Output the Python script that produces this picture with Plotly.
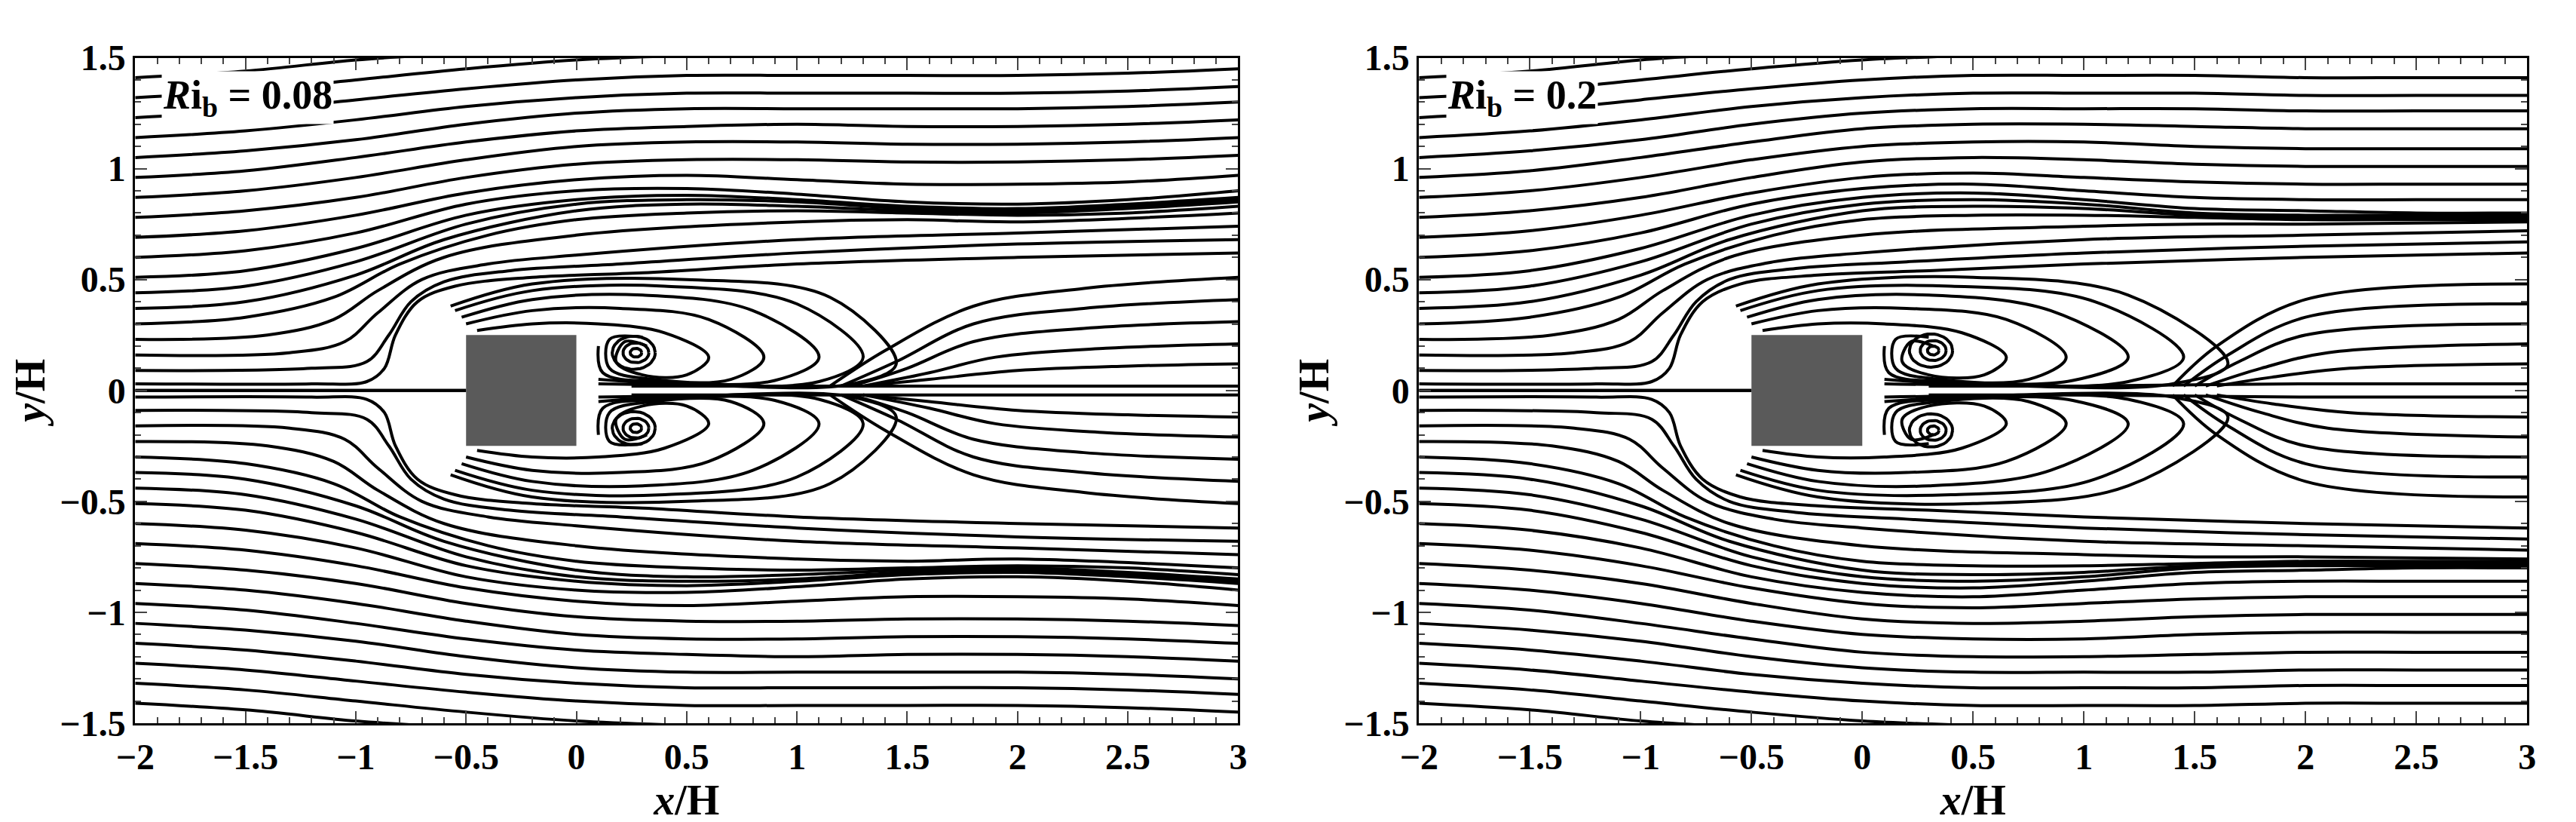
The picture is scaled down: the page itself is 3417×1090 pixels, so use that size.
import plotly.graph_objects as go
import math

# ---- data: upper-half streamlines (x, y) points; lower half mirrored ----
A_LINES = [
    [(-2,0.03),(-1.2,0.03),(-0.95,0.04),(-0.87,0.1),(-0.82,0.25),(-0.72,0.4),(-0.55,0.47),(-0.2,0.51),(0.3,0.53),(1,0.57),(2,0.6),(3,0.62)],
    [(-2,0.09),(-1.2,0.1),(-0.95,0.13),(-0.85,0.25),(-0.75,0.4),(-0.6,0.49),(-0.3,0.54),(0.2,0.57),(1,0.62),(2,0.66),(3,0.68)],
    [(-2,0.16),(-1.3,0.17),(-1.05,0.22),(-0.9,0.35),(-0.7,0.5),(-0.4,0.57),(0,0.61),(1,0.68),(2,0.71),(3,0.74)],
    [(-2,0.23),(-1.4,0.25),(-1.1,0.32),(-0.9,0.45),(-0.6,0.6),(0,0.7),(1,0.76),(1.5,0.77),(2,0.76),(3,0.8)],
    [(-2,0.3),(-1.5,0.33),(-1.1,0.42),(-0.8,0.57),(-0.4,0.7),(0,0.77),(0.5,0.8),(1,0.81),(1.5,0.8),(2,0.79),(2.5,0.8),(3,0.83)],
    [(-2,0.37),(-1.5,0.4),(-1,0.52),(-0.6,0.68),(0,0.81),(0.5,0.84),(1,0.83),(1.5,0.81),(2,0.8),(2.5,0.82),(3,0.85)],
    [(-2,0.44),(-1.5,0.47),(-1,0.58),(-0.5,0.75),(0,0.84),(0.5,0.86),(1,0.85),(1.5,0.82),(2,0.81),(2.5,0.83),(3,0.86)],
    [(-2,0.51),(-1.5,0.54),(-1,0.64),(-0.5,0.79),(0,0.86),(0.5,0.88),(1,0.86),(1.5,0.83),(2,0.82),(2.5,0.84),(3,0.87)],
    [(-2,0.6),(-1.5,0.63),(-1,0.71),(-0.5,0.84),(0,0.9),(0.5,0.91),(1,0.885),(1.5,0.85),(2,0.84),(2.5,0.86),(3,0.9)],
    [(-2,0.69),(-1.5,0.72),(-1,0.79),(-0.5,0.89),(0,0.95),(0.5,0.97),(1,0.95),(1.5,0.93),(2,0.93),(2.5,0.94),(3,0.97)],
    [(-2,0.78),(-1.5,0.81),(-1,0.87),(-0.5,0.96),(0,1.02),(0.5,1.04),(1,1.04),(1.5,1.03),(2,1.03),(2.5,1.04),(3,1.06)],
    [(-2,0.87),(-1.5,0.9),(-1,0.96),(-0.5,1.04),(0,1.1),(0.5,1.12),(1,1.12),(1.5,1.11),(2,1.11),(2.5,1.12),(3,1.14)],
    [(-2,0.96),(-1.5,0.99),(-1,1.05),(-0.5,1.12),(0,1.17),(0.5,1.19),(1,1.2),(1.5,1.19),(2,1.19),(2.5,1.2),(3,1.22)],
    [(-2,1.05),(-1.5,1.08),(-1,1.13),(-0.5,1.2),(0,1.25),(0.5,1.27),(1,1.27),(1.5,1.27),(2,1.27),(2.5,1.28),(3,1.3)],
    [(-2,1.14),(-1.5,1.17),(-1,1.22),(-0.5,1.28),(0,1.32),(0.5,1.34),(1,1.34),(1.5,1.34),(2,1.34),(2.5,1.35),(3,1.37)],
    [(-2,1.23),(-1.5,1.26),(-1,1.31),(-0.5,1.36),(0,1.4),(0.5,1.42),(1,1.42),(1.5,1.42),(2,1.42),(2.5,1.43),(3,1.45)],
    [(-2,1.32),(-1.5,1.35),(-1,1.4),(-0.5,1.45),(0,1.49),(0.5,1.51)],
    [(-2,1.41),(-1.5,1.44),(-1,1.49),(-0.7,1.51)],
    [(-2,0.0),(-0.5,0.0)],
    [(0.25,0.02),(1,0.02),(2,0.02),(3,0.02)],
    [(1.3,0.02),(1.6,0.05),(2,0.09),(2.5,0.11),(3,0.12)],
    [(1.3,0.02),(1.6,0.08),(1.9,0.15),(2.4,0.19),(3,0.21)],
    [(1.25,0.02),(1.5,0.1),(1.8,0.22),(2.3,0.28),(3,0.31)],
    [(1.2,0.02),(1.45,0.13),(1.8,0.3),(2.3,0.37),(3,0.41)],
    [(1.15,0.02),(1.4,0.18),(1.8,0.38),(2.3,0.46),(3,0.51)],
]
A_LOOPS = [
    [(-0.45,0.27),(-0.2,0.3),(0.1,0.3),(0.4,0.26),(0.6,0.15),(0.5,0.07),(0.3,0.07),(0.18,0.13),(0.22,0.22),(0.32,0.2)],
    [(-0.5,0.3),(-0.2,0.36),(0.2,0.37),(0.6,0.32),(0.85,0.15),(0.7,0.05),(0.35,0.05),(0.15,0.1),(0.15,0.23),(0.3,0.24)],
    [(-0.52,0.33),(-0.2,0.41),(0.3,0.43),(0.8,0.36),(1.1,0.15),(0.9,0.045),(0.4,0.04),(0.12,0.08),(0.1,0.2)],
    [(-0.55,0.36),(-0.2,0.45),(0.4,0.47),(1.0,0.39),(1.3,0.15),(1.1,0.04),(0.45,0.03),(0.1,0.05)],
    [(-0.57,0.38),(-0.2,0.48),(0.5,0.5),(1.15,0.42),(1.45,0.12),(1.25,0.03),(0.5,0.025),(0.1,0.03)],
]
A_SPIRAL = [(0.27,0.17,0.02),(0.27,0.17,0.045),(0.26,0.17,0.075)]

B_LINES = [
    [(-2,0.03),(-1.2,0.03),(-0.95,0.04),(-0.87,0.1),(-0.82,0.25),(-0.72,0.4),(-0.55,0.48),(-0.2,0.52),(0.3,0.54),(1,0.57),(2,0.6),(3,0.62)],
    [(-2,0.09),(-1.2,0.1),(-0.95,0.13),(-0.85,0.25),(-0.75,0.4),(-0.6,0.5),(-0.3,0.55),(0.2,0.58),(1,0.62),(2,0.65),(3,0.67)],
    [(-2,0.16),(-1.3,0.17),(-1.05,0.22),(-0.9,0.35),(-0.7,0.5),(-0.4,0.58),(0,0.62),(1,0.68),(2,0.7),(3,0.72)],
    [(-2,0.23),(-1.4,0.25),(-1.1,0.32),(-0.9,0.45),(-0.6,0.6),(0,0.7),(1,0.74),(1.5,0.75),(2,0.75),(3,0.76)],
    [(-2,0.3),(-1.5,0.33),(-1.1,0.42),(-0.8,0.57),(-0.4,0.7),(0,0.77),(0.5,0.79),(1,0.79),(1.5,0.78),(2,0.77),(2.5,0.77),(3,0.77)],
    [(-2,0.37),(-1.5,0.4),(-1,0.52),(-0.6,0.68),(0,0.81),(0.5,0.83),(1,0.82),(1.5,0.79),(2,0.78),(2.5,0.78),(3,0.78)],
    [(-2,0.44),(-1.5,0.47),(-1,0.58),(-0.5,0.75),(0,0.84),(0.5,0.86),(1,0.84),(1.5,0.8),(2,0.79),(2.5,0.79),(3,0.79)],
    [(-2,0.51),(-1.5,0.54),(-1,0.64),(-0.5,0.79),(0,0.87),(0.5,0.89),(1,0.86),(1.5,0.82),(2,0.81),(2.5,0.8),(3,0.8)],
    [(-2,0.6),(-1.5,0.63),(-1,0.71),(-0.5,0.84),(0,0.91),(0.5,0.93),(1,0.9),(1.5,0.87),(2,0.86),(2.5,0.86),(3,0.86)],
    [(-2,0.69),(-1.5,0.72),(-1,0.79),(-0.5,0.89),(0,0.96),(0.5,0.98),(1,0.96),(1.5,0.94),(2,0.93),(2.5,0.93),(3,0.93)],
    [(-2,0.78),(-1.5,0.81),(-1,0.87),(-0.5,0.96),(0,1.03),(0.5,1.05),(1,1.04),(1.5,1.02),(2,1.01),(2.5,1.01),(3,1.01)],
    [(-2,0.87),(-1.5,0.9),(-1,0.96),(-0.5,1.04),(0,1.1),(0.5,1.12),(1,1.12),(1.5,1.1),(2,1.09),(2.5,1.09),(3,1.09)],
    [(-2,0.96),(-1.5,0.99),(-1,1.05),(-0.5,1.12),(0,1.18),(0.5,1.2),(1,1.2),(1.5,1.19),(2,1.18),(2.5,1.18),(3,1.18)],
    [(-2,1.05),(-1.5,1.08),(-1,1.13),(-0.5,1.2),(0,1.25),(0.5,1.27),(1,1.27),(1.5,1.27),(2,1.26),(2.5,1.26),(3,1.26)],
    [(-2,1.14),(-1.5,1.17),(-1,1.22),(-0.5,1.28),(0,1.32),(0.5,1.34),(1,1.34),(1.5,1.34),(2,1.33),(2.5,1.33),(3,1.33)],
    [(-2,1.23),(-1.5,1.26),(-1,1.31),(-0.5,1.36),(0,1.4),(0.5,1.42),(1,1.42),(1.5,1.42),(2,1.41),(2.5,1.41),(3,1.41)],
    [(-2,1.32),(-1.5,1.35),(-1,1.4),(-0.5,1.45),(0,1.49),(0.5,1.51)],
    [(-2,1.41),(-1.5,1.44),(-1,1.49),(-0.7,1.51)],
    [(-2,0.0),(-0.5,0.0)],
    [(0.3,0.02),(1,0.02),(2,0.03),(3,0.03)],
    [(1.6,0.02),(1.85,0.06),(2.2,0.1),(3,0.12)],
    [(1.55,0.02),(1.8,0.1),(2.1,0.17),(3,0.21)],
    [(1.5,0.02),(1.7,0.13),(2.0,0.25),(3,0.3)],
    [(1.45,0.02),(1.65,0.16),(2.0,0.33),(3,0.39)],
    [(1.4,0.02),(1.6,0.2),(2.0,0.41),(3,0.48)],
]
B_LOOPS = [
    [(-0.45,0.27),(-0.2,0.3),(0.1,0.3),(0.45,0.26),(0.65,0.15),(0.55,0.07),(0.3,0.07),(0.18,0.13),(0.22,0.22),(0.32,0.2)],
    [(-0.5,0.3),(-0.2,0.36),(0.2,0.37),(0.65,0.32),(0.92,0.15),(0.75,0.05),(0.35,0.05),(0.15,0.1),(0.15,0.23),(0.3,0.24)],
    [(-0.52,0.33),(-0.2,0.41),(0.3,0.43),(0.85,0.36),(1.2,0.15),(0.95,0.045),(0.4,0.04),(0.12,0.08),(0.1,0.2)],
    [(-0.55,0.36),(-0.2,0.45),(0.4,0.47),(1.05,0.4),(1.45,0.15),(1.2,0.04),(0.45,0.03),(0.1,0.05)],
    [(-0.57,0.38),(-0.2,0.48),(0.5,0.51),(1.2,0.43),(1.65,0.12),(1.4,0.03),(0.5,0.025),(0.1,0.03)],
]
B_SPIRAL = [(0.32,0.18,0.02),(0.32,0.18,0.045),(0.31,0.18,0.075)]

PANELS = [("x", "y", A_LINES, A_LOOPS, A_SPIRAL, "<i>R</i>i<sub>b</sub> = 0.08"),
          ("x2", "y2", B_LINES, B_LOOPS, B_SPIRAL, "<i>R</i>i<sub>b</sub> = 0.2")]

fig = go.Figure()
LW = 4
SERIF = "Liberation Serif"
for xa, ya, lines, loops, spirals, label in PANELS:
    for pts in lines + loops:
        for s in (1, -1):
            fig.add_trace(go.Scatter(x=[p[0] for p in pts], y=[s * p[1] for p in pts], mode="lines",
                                     line=dict(color="black", width=LW, shape="spline", smoothing=1.0),
                                     xaxis=xa, yaxis=ya, showlegend=False, hoverinfo="skip"))
    for cx, cy, r in spirals:
        ts = [i * math.pi / 20 for i in range(41)]
        for s in (1, -1):
            fig.add_trace(go.Scatter(x=[cx + 1.3 * r * math.cos(t) for t in ts],
                                     y=[s * (cy + r * math.sin(t)) for t in ts], mode="lines",
                                     line=dict(color="black", width=LW), xaxis=xa, yaxis=ya,
                                     showlegend=False, hoverinfo="skip"))
    fig.add_shape(type="rect", x0=-0.5, x1=0, y0=-0.25, y1=0.25, xref=xa, yref=ya,
                  fillcolor="#5a5a5a", line=dict(width=0), layer="above")
    fig.add_annotation(text="<b>" + label + "</b>", x=-1.88, y=1.32, xref=xa, yref=ya,
                       xanchor="left", yanchor="middle", showarrow=False,
                       font=dict(size=54, family=SERIF, color="black"), bgcolor="white")

common = dict(dtick=0.5, ticks="inside", ticklen=16, tickwidth=2, showgrid=False,
              zeroline=False, showline=True, linewidth=3, linecolor="black", mirror="ticks",
              minor=dict(ticks="inside", ticklen=8, dtick=0.1, tickwidth=1.5),
              tickfont=dict(family=SERIF, size=48, color="black", weight="bold"))
ax = dict(common, range=[-2, 3],
          title=dict(text="<b><i>x</i>/H</b>", font=dict(family=SERIF, size=56, color="black"), standoff=0))
ay = dict(common, range=[-1.5, 1.5],
          title=dict(text="<b><i>y</i>/H</b>", font=dict(family=SERIF, size=56, color="black"), standoff=2))

fig.update_layout(
    width=3417, height=1090, margin=dict(l=0, r=0, t=0, b=0),
    plot_bgcolor="white", paper_bgcolor="white",
    xaxis=dict(ax, domain=[0.043, 0.476], anchor="y"),
    yaxis=dict(ay, domain=[0.108, 0.959], anchor="x"),
    xaxis2=dict(ax, domain=[0.547, 0.982], anchor="y2"),
    yaxis2=dict(ay, domain=[0.108, 0.959], anchor="x2"),
)
fig.write_html("out.html")
